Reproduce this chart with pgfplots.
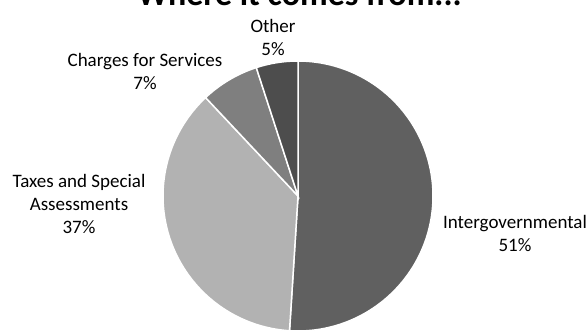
\documentclass[border=0pt]{standalone}
\usepackage{pgfplots}
\pgfplotsset{compat=1.18}
\usepackage{pgfplotstable}
\usepackage{fontspec}
\setmainfont{Carlito}
\definecolor{cInter}{RGB}{96,96,96}
\definecolor{cTax}{RGB}{178,178,178}
\definecolor{cChg}{RGB}{127,127,127}
\definecolor{cOth}{RGB}{77,77,77}
\pgfplotstableread[col sep=comma]{
idx,share
0,51
1,37
2,7
3,5
}\piedata
\tikzset{lbl/.style={font=\fontsize{19bp}{23bp}\selectfont, align=center, inner sep=0pt, outer sep=0pt, anchor=base}}
\begin{document}
\begin{tikzpicture}
\pgfplotstablegetelem{0}{share}\of\piedata \let\sA\pgfplotsretval
\pgfplotstablegetelem{1}{share}\of\piedata \let\sB\pgfplotsretval
\pgfplotstablegetelem{2}{share}\of\piedata \let\sC\pgfplotsretval
\pgfplotstablegetelem{3}{share}\of\piedata \let\sD\pgfplotsretval
\pgfmathsetmacro\aA{90}
\pgfmathsetmacro\aB{\aA-3.6*\sA}
\pgfmathsetmacro\aC{\aB-3.6*\sB}
\pgfmathsetmacro\aD{\aC-3.6*\sC}
\pgfmathsetmacro\aE{\aD-3.6*\sD}
\begin{axis}[
  width=588bp, height=334bp, scale only axis, hide axis,
  xmin=0, xmax=588, ymin=0, ymax=334, y dir=reverse, clip=false,
]
\addplot[fill=cInter, draw=white, line width=1.5pt, samples=120, domain=\aB:\aA, variable=\t]
  ({298+135*cos(\t)},{196-135*sin(\t)}) -- (axis cs:298,196) -- cycle;
\addplot[fill=cTax, draw=white, line width=1.5pt, samples=120, domain=\aC:\aB, variable=\t]
  ({298+135*cos(\t)},{196-135*sin(\t)}) -- (axis cs:298,196) -- cycle;
\addplot[fill=cChg, draw=white, line width=1.5pt, samples=40, domain=\aD:\aC, variable=\t]
  ({298+135*cos(\t)},{196-135*sin(\t)}) -- (axis cs:298,196) -- cycle;
\addplot[fill=cOth, draw=white, line width=1.5pt, samples=40, domain=\aE:\aD, variable=\t]
  ({298+135*cos(\t)},{196-135*sin(\t)}) -- (axis cs:298,196) -- cycle;
\node[lbl] at (axis cs:273,55) {Other\\5\%};
\node[lbl] at (axis cs:145,89.3) {Charges for Services\\7\%};
\node[lbl] at (axis cs:79,233.3) {Taxes and Special\\Assessments\\37\%};
\node[lbl] at (axis cs:515,251) {Intergovernmental\\51\%};
\node[anchor=base, inner sep=0pt, font=\fontsize{34bp}{40bp}\selectfont\bfseries] at (axis cs:299.5,5.5) {Where it comes from...};
\end{axis}
\pgfresetboundingbox
\useasboundingbox (current axis.south west) rectangle (current axis.north east);
\end{tikzpicture}
\end{document}
